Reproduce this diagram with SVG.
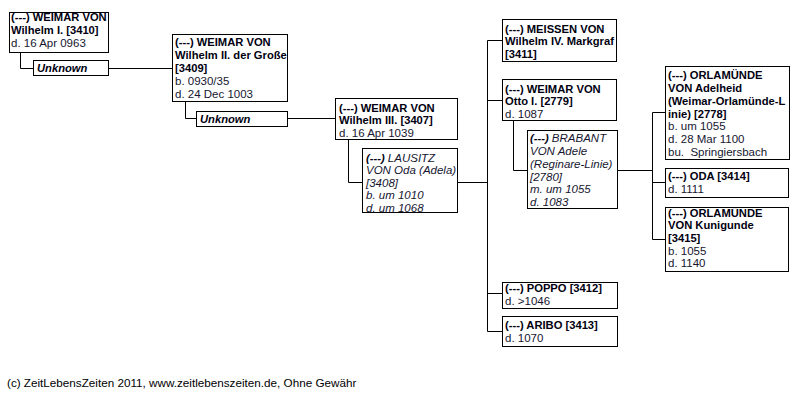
<svg xmlns="http://www.w3.org/2000/svg" width="802" height="400" viewBox="0 0 802 400">
<style>
text{font-family:"Liberation Sans",Arial,sans-serif;font-size:11.5px;fill:#161630;white-space:pre}
.b{font-weight:bold;fill:#000010;font-size:11.2px}
.i{font-style:italic}
.bi{font-weight:bold;font-style:italic;fill:#000010;font-size:11.2px}
rect{fill:#fff;stroke:#000;stroke-width:1}
.c path{fill:none;stroke:#000;stroke-width:1}
</style>
<rect x="0" y="0" width="802" height="400" style="stroke:none"/>
<g class="c" id="connectors">
<path d="M20.5 52 V68.5 H33"/>
<path d="M109 68.5 H172"/>
<path d="M185.5 102 V118.5 H196"/>
<path d="M288 118.5 H335"/>
<path d="M348.5 140 V182.5 H362"/>
<path d="M458 182.5 H487.5"/>
<path d="M487.5 40.5 V331.5"/>
<path d="M487.5 40.5 H502 M487.5 100.5 H502 M487.5 293.5 H502 M487.5 331.5 H502"/>
<path d="M513.5 121 V170.5 H527"/>
<path d="M618 170.5 H652.5"/>
<path d="M652.5 112.5 V239.5"/>
<path d="M652.5 112.5 H665 M652.5 182.5 H665 M652.5 239.5 H665"/>
</g>
<g id="n3410">
<rect x="9.5" y="12.5" width="99" height="40"/>
<text x="11" y="21" class="b">(---) WEIMAR VON</text>
<text x="11" y="34" class="b">Wilhelm I. [3410]</text>
<text x="11" y="47">d. 16 Apr 0963</text>
</g>
<g id="unknown1">
<rect x="33.5" y="60.5" width="75" height="15"/>
<text x="37" y="72" class="bi">Unknown</text>
</g>
<g id="n3409">
<rect x="172.5" y="34.5" width="115" height="67"/>
<text x="175" y="46" class="b">(---) WEIMAR VON</text>
<text x="175" y="59" class="b">Wilhelm II. der Große</text>
<text x="175" y="72" class="b">[3409]</text>
<text x="175" y="85">b. 0930/35</text>
<text x="175" y="98">d. 24 Dec 1003</text>
</g>
<g id="unknown2">
<rect x="196.5" y="111.5" width="91" height="15"/>
<text x="200" y="123" class="bi">Unknown</text>
</g>
<g id="n3407">
<rect x="335.5" y="98.5" width="122" height="41"/>
<text x="339" y="111.5" class="b">(---) WEIMAR VON</text>
<text x="339" y="124" class="b">Wilhelm III. [3407]</text>
<text x="339" y="136.5">d. 16 Apr 1039</text>
</g>
<g id="n3408">
<rect x="362.5" y="148.5" width="95" height="64"/>
<text x="366" y="161.5" class="i"><tspan class="bi">(---)</tspan> LAUSITZ</text>
<text x="366" y="174" class="i">VON Oda (Adela)</text>
<text x="366" y="186.5" class="i">[3408]</text>
<text x="366" y="199" class="i">b. um 1010</text>
<text x="366" y="211.5" class="i">d. um 1068</text>
</g>
<g id="n3411">
<rect x="502.5" y="19.5" width="114" height="42"/>
<text x="505" y="32.5" class="b">(---) MEISSEN VON</text>
<text x="505" y="45" class="b">Wilhelm IV. Markgraf</text>
<text x="505" y="57.5" class="b">[3411]</text>
</g>
<g id="n2779">
<rect x="502.5" y="79.5" width="114" height="41"/>
<text x="505" y="92.5" class="b">(---) WEIMAR VON</text>
<text x="505" y="105" class="b">Otto I. [2779]</text>
<text x="505" y="117.5">d. 1087</text>
</g>
<g id="n2780">
<rect x="527.5" y="130.5" width="90" height="78"/>
<text x="530" y="142" class="i"><tspan class="bi">(---)</tspan> BRABANT</text>
<text x="530" y="155" class="i">VON Adele</text>
<text x="530" y="167.5" class="i">(Reginare-Linie)</text>
<text x="530" y="180.5" class="i">[2780]</text>
<text x="530" y="193" class="i">m. um 1055</text>
<text x="530" y="206" class="i">d. 1083</text>
</g>
<g id="n2778">
<rect x="665.5" y="66.5" width="124" height="93"/>
<text x="668" y="79" class="b">(---) ORLAMÜNDE</text>
<text x="668" y="92" class="b">VON Adelheid</text>
<text x="668" y="104.5" class="b">(Weimar-Orlamünde-L</text>
<text x="668" y="117.5" class="b">inie) [2778]</text>
<text x="668" y="130">b. um 1055</text>
<text x="668" y="143">d. 28 Mar 1100</text>
<text x="668" y="156">bu.  Springiersbach</text>
</g>
<g id="n3414">
<rect x="665.5" y="168.5" width="123" height="29"/>
<text x="668" y="180" class="b">(---) ODA [3414]</text>
<text x="668" y="193">d. 1111</text>
</g>
<g id="n3415">
<rect x="665.5" y="207.5" width="123" height="64"/>
<text x="668" y="216.5" class="b">(---) ORLAMÜNDE</text>
<text x="668" y="229" class="b">VON Kunigunde</text>
<text x="668" y="242" class="b">[3415]</text>
<text x="668" y="254.5">b. 1055</text>
<text x="668" y="267">d. 1140</text>
</g>
<g id="n3412">
<rect x="502.5" y="282.5" width="115" height="26"/>
<text x="505" y="291.5" class="b">(---) POPPO [3412]</text>
<text x="505" y="304.5">d. &gt;1046</text>
</g>
<g id="n3413">
<rect x="502.5" y="316.5" width="115" height="30"/>
<text x="505" y="329" class="b">(---) ARIBO [3413]</text>
<text x="505" y="342">d. 1070</text>
</g>
<text x="7" y="387" style="fill:#000;font-size:11.7px">(c) ZeitLebensZeiten 2011, www.zeitlebenszeiten.de, Ohne Gewähr</text>
</svg>
